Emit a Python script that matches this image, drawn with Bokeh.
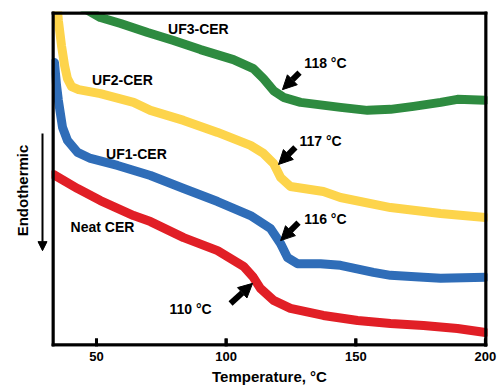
from bokeh.plotting import figure
from bokeh.layouts import row
from bokeh.models import Range1d, Label, Arrow, NormalHead, FixedTicker, BoxAnnotation
from bokeh.embed import file_html
from bokeh.resources import INLINE
import math

# ---- data (heat flow in arbitrary units) ----
uf3_t = [40.0, 48.8, 51.5, 59.3, 69.7, 79.7, 90.1, 102.8, 110.5, 114.4, 118.3, 122.1, 128.7, 144.1, 154.5, 163.4, 172.3, 182.7, 189.2, 200.0]
uf3_h = [10.39, 10.0, 9.88, 9.70, 9.43, 9.19, 8.92, 8.62, 8.35, 8.05, 7.69, 7.49, 7.34, 7.19, 7.10, 7.13, 7.22, 7.34, 7.43, 7.40]

uf2_t = [34.6, 35.3, 36.5, 37.7, 38.8, 40.4, 43.1, 51.5, 64.3, 70.8, 83.6, 96.7, 109.4, 114.4, 118.3, 121.0, 124.8, 137.5, 144.1, 163.4, 182.7, 200.0]
uf2_h = [10.39, 9.79, 9.04, 8.44, 8.05, 7.81, 7.72, 7.60, 7.34, 7.10, 6.80, 6.44, 6.05, 5.81, 5.51, 5.09, 4.82, 4.67, 4.49, 4.19, 4.01, 3.89]

uf1_t = [33.8, 34.6, 35.3, 36.9, 38.8, 42.7, 47.7, 58.1, 70.8, 83.6, 96.7, 109.4, 117.1, 121.0, 123.7, 127.5, 136.4, 144.1, 156.8, 163.4, 176.1, 182.7, 200.0]
uf1_h = [8.53, 7.84, 7.40, 6.59, 6.20, 5.84, 5.66, 5.45, 5.15, 4.76, 4.37, 3.95, 3.56, 3.11, 2.69, 2.51, 2.51, 2.46, 2.25, 2.16, 2.10, 2.07, 2.10]

neat_t = [33.4, 42.7, 51.5, 64.3, 70.8, 83.6, 96.7, 106.7, 110.5, 113.2, 118.3, 124.8, 137.5, 150.7, 163.4, 176.1, 189.2, 200.0]
neat_h = [5.18, 4.76, 4.40, 3.95, 3.77, 3.29, 2.90, 2.43, 2.10, 1.77, 1.41, 1.17, 0.96, 0.81, 0.72, 0.66, 0.57, 0.45]

series_names = ["UF3-CER", "UF2-CER", "UF1-CER", "Neat CER"]
series_colors = ["#2E8B40", "#FDD44B", "#2F6DB8", "#E11F26"]
name_x = [89.3, 60.0, 65.4, 52.3]
name_y = [9.55, 8.02, 5.78, 3.62]

tg_labels = ["118 °C", "117 °C", "116 °C", "110 °C"]
tg_label_x = [138.3, 136.4, 138.3, 86.3]
tg_label_y = [8.53, 6.17, 3.86, 1.14]
arrow_x0 = [128.3, 126.7, 127.9, 101.7]
arrow_y0 = [8.23, 5.99, 3.74, 1.32]
arrow_x1 = [121.7, 120.2, 121.0, 110.2]
arrow_y1 = [7.72, 5.48, 3.20, 1.92]

x_ticks = [50, 100, 150, 200]
x_min, x_max = 32.65, 200.79
y_min, y_max = 0.03, 10.06

FONT = "Liberation Sans"
TOP, BOTTOM = 11, 41

# ---- left gutter: "Endothermic" with downward arrow ----
g = figure(width=50, height=387, output_backend="svg", toolbar_location=None,
           x_range=Range1d(0, 50), y_range=Range1d(y_min, y_max),
           min_border_left=0, min_border_right=0, min_border_top=TOP, min_border_bottom=BOTTOM)
g.xaxis.visible = False
g.yaxis.visible = False
g.xgrid.visible = False
g.ygrid.visible = False
g.outline_line_color = None
g.add_layout(Label(x=22, y=4.70, text="Endothermic", angle=math.pi / 2, text_font=FONT,
                   text_font_style="bold", text_font_size="15px", text_align="center",
                   text_baseline="middle", text_color="black"))
g.add_layout(Arrow(x_start=42, y_start=6.41, x_end=42, y_end=2.90, line_width=2, line_color="black",
                   end=NormalHead(size=9, fill_color="black", line_color="black", line_width=1)))

# ---- main plot ----
p = figure(width=453, height=387, output_backend="svg", toolbar_location=None,
           x_range=Range1d(x_min, x_max), y_range=Range1d(y_min, y_max),
           min_border_left=1, min_border_right=16, min_border_top=TOP, min_border_bottom=BOTTOM)

p.xgrid.visible = False
p.ygrid.visible = False
p.yaxis.visible = False
p.outline_line_color = None

ax = p.xaxis[0]
ax.ticker = FixedTicker(ticks=x_ticks)
ax.minor_tick_line_color = None
ax.major_tick_line_color = None
ax.major_tick_in = 0
ax.major_tick_out = 0
ax.axis_line_color = None
ax.major_label_text_font = FONT
ax.major_label_text_font_style = "bold"
ax.major_label_text_font_size = "13px"
ax.major_label_text_color = "black"
ax.major_label_standoff = 5
ax.axis_label = "Temperature, °C"
ax.axis_label_text_font = FONT
ax.axis_label_text_font_style = "bold"
ax.axis_label_text_font_size = "15px"
ax.axis_label_text_color = "black"
ax.axis_label_standoff = 4

for t, h, c in zip([uf3_t, uf2_t, uf1_t, neat_t], [uf3_h, uf2_h, uf1_h, neat_h], series_colors):
    p.line(t, h, line_color=c, line_width=9, line_join="round", line_cap="round")

# frame border as thin filled strips along the frame edges (3 px), plus inward ticks
px_x = (x_max - x_min) / 436.0
px_y = (y_max - y_min) / 335.0
strip_l = [x_min, x_min, x_min, x_max - 3 * px_x] + [t - 1.5 * px_x for t in x_ticks]
strip_r = [x_max, x_max, x_min + 3 * px_x, x_max] + [t + 1.5 * px_x for t in x_ticks]
strip_b = [y_max - 3 * px_y, y_min, y_min, y_min] + [y_min for t in x_ticks]
strip_t = [y_max, y_min + 3 * px_y, y_max, y_max] + [y_min + 8 * px_y for t in x_ticks]
p.quad(left=strip_l, right=strip_r, bottom=strip_b, top=strip_t,
       fill_color="black", fill_alpha=1.0, line_color=None)
border = dict(fill_color="black", fill_alpha=1.0, line_color=None, level="overlay")
for l, r, b, t in zip(strip_l, strip_r, strip_b, strip_t):
    p.add_layout(BoxAnnotation(left=l, right=r, bottom=b, top=t, **border))

for name, x, y in zip(series_names, name_x, name_y):
    p.add_layout(Label(x=x, y=y, text=name, text_font=FONT, text_font_style="bold",
                       text_font_size="14px", text_align="center", text_baseline="middle",
                       text_color="black"))

for txt, x, y in zip(tg_labels, tg_label_x, tg_label_y):
    p.add_layout(Label(x=x, y=y, text=txt, text_font=FONT, text_font_style="bold",
                       text_font_size="14px", text_align="center", text_baseline="middle",
                       text_color="black"))

for x0, y0, x1, y1 in zip(arrow_x0, arrow_y0, arrow_x1, arrow_y1):
    p.add_layout(Arrow(x_start=x0, y_start=y0, x_end=x1, y_end=y1, line_width=6, line_color="black",
                       end=NormalHead(size=14, fill_color="black", line_color="black", line_width=1)))

layout = row(g, p, spacing=0)
open("out.html", "w").write(file_html(layout, INLINE))
